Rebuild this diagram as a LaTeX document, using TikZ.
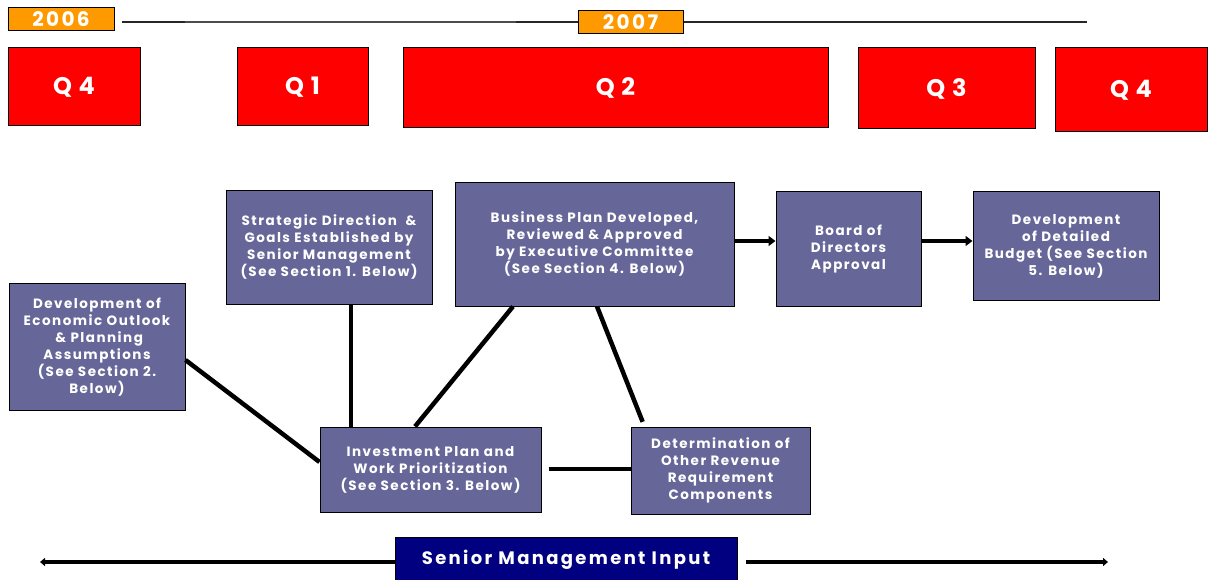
\documentclass[tikz,border=0pt]{standalone}
\usepackage{fontspec}
\setmainfont{Poppins}
\newfontfamily\boxfont[LetterSpace=11]{Poppins}
\newfontfamily\qfont[LetterSpace=28]{Poppins}
\newfontfamily\yfont[LetterSpace=12]{Poppins}
\newfontfamily\senfont[LetterSpace=13]{Poppins}
\usetikzlibrary{arrows.meta}
\definecolor{purp}{HTML}{666699}
\definecolor{qred}{HTML}{FF0000}
\definecolor{yorange}{HTML}{FF9900}
\definecolor{navyb}{HTML}{000080}
\tikzset{
  pbox/.style={draw=black, fill=purp, line width=1pt, text=white, align=center, inner sep=0pt,
    font=\boxfont\fontsize{13.5}{17}\selectfont\bfseries},
  qbox/.style={draw=black, fill=qred, line width=1pt, text=white, inner sep=0pt,
    font=\qfont\fontsize{24}{26}\selectfont\bfseries},
  ybox/.style={draw=black, fill=yorange, line width=1pt, text=white, inner sep=0pt,
    font=\yfont\fontsize{20}{20}\selectfont\bfseries},
  conn/.style={line width=4.5pt, black},
  arr/.style={line width=4.5pt, black, -{Triangle[length=7pt,width=10pt]}},
  sarr/.style={line width=3.5pt, black, -{Triangle[length=5pt,width=8pt]}},
}
\begin{document}
\begin{tikzpicture}[x=1pt,y=-1pt]
\useasboundingbox (0,0) rectangle (1208,580);
% timeline
\coordinate (tls) at (122,22);
\coordinate (tle) at (1087,22);
\draw[line width=1.2pt, black!85] (tls) -- (tle);
\draw[line width=1.8pt, black!70] (185,22) -- (516,22);
\node[ybox, minimum width=106, minimum height=23] (y2006) at (61,19) {2006};
\node[ybox, minimum width=105, minimum height=23] (y2007) at (630.5,22) {2007};
% quarters
\node[qbox, minimum width=132, minimum height=78] (q4a) at (74,87) {Q4};
\node[qbox, minimum width=131, minimum height=78] (q1) at (302.5,87) {Q1};
\node[qbox, minimum width=425, minimum height=80] (q2) at (615.5,88) {Q2};
\node[qbox, minimum width=177, minimum height=81] (q3) at (946.5,88.5) {Q3};
\node[qbox, minimum width=152, minimum height=84] (q4b) at (1131,90) {Q4};
% process boxes
\node[pbox, minimum width=176, minimum height=126] (econ) at (97,347)
  {Development of\\Economic Outlook\\\ \& Planning\\Assumptions\\(See Section 2.\\Below)};
\node[pbox, minimum width=206, minimum height=113] (strat) at (329,247.5)
  {Strategic Direction\ \ \&\\Goals Established by\\Senior Management\\(See Section 1. Below)};
\node[pbox, minimum width=279, minimum height=123] (bus) at (594.5,244.5)
  {Business Plan Developed,\\Reviewed \& Approved\\by Executive Committee\\(See Section 4. Below)};
\node[pbox, minimum width=145, minimum height=114] (board) at (848.5,249)
  {Board of\\Directors\\Approval};
\node[pbox, minimum width=186, minimum height=108] (budget) at (1066,246)
  {Development\\of Detailed\\Budget (See Section\\5. Below)};
\node[pbox, minimum width=221, minimum height=85] (inv) at (430.5,469.5)
  {Investment Plan and\\Work Prioritization\\(See Section 3. Below)};
\node[pbox, minimum width=179, minimum height=87] (det) at (720.5,470.5)
  {Determination of\\Other Revenue\\Requirement\\Components};
% connectors
\draw[conn] (strat.south -| 351,0) -- (inv.north -| 351,0);
\draw[conn] (econ.east |- 0,360) -- (inv.west |- 0,462);
\draw[conn] (inv.north -| 415,0) -- (bus.south -| 513,0);
\draw[conn, shorten >=5pt] (bus.south -| 597,0) -- (det.north -| 644.5,0);
\draw[conn, shorten <=7pt] (inv.east |- 0,469) -- (det.west |- 0,469);
\draw[arr] (bus.east |- 0,241) -- (board.west |- 0,241);
\draw[arr] (board.east |- 0,241) -- (budget.west |- 0,241);
% senior management input
\node[draw=black, fill=navyb, line width=1pt, text=white, inner sep=0pt,
  minimum width=342, minimum height=46, font=\senfont\fontsize{18}{20}\selectfont\bfseries] (sen) at (566,560) {Senior Management Input};
\coordinate (sl) at (40,562);
\coordinate (sr) at (1108,562);
\draw[sarr] (sen.west |- 0,562) -- (sl);
\draw[sarr, shorten <=8pt] (sen.east |- 0,562) -- (sr);
\end{tikzpicture}
\end{document}
